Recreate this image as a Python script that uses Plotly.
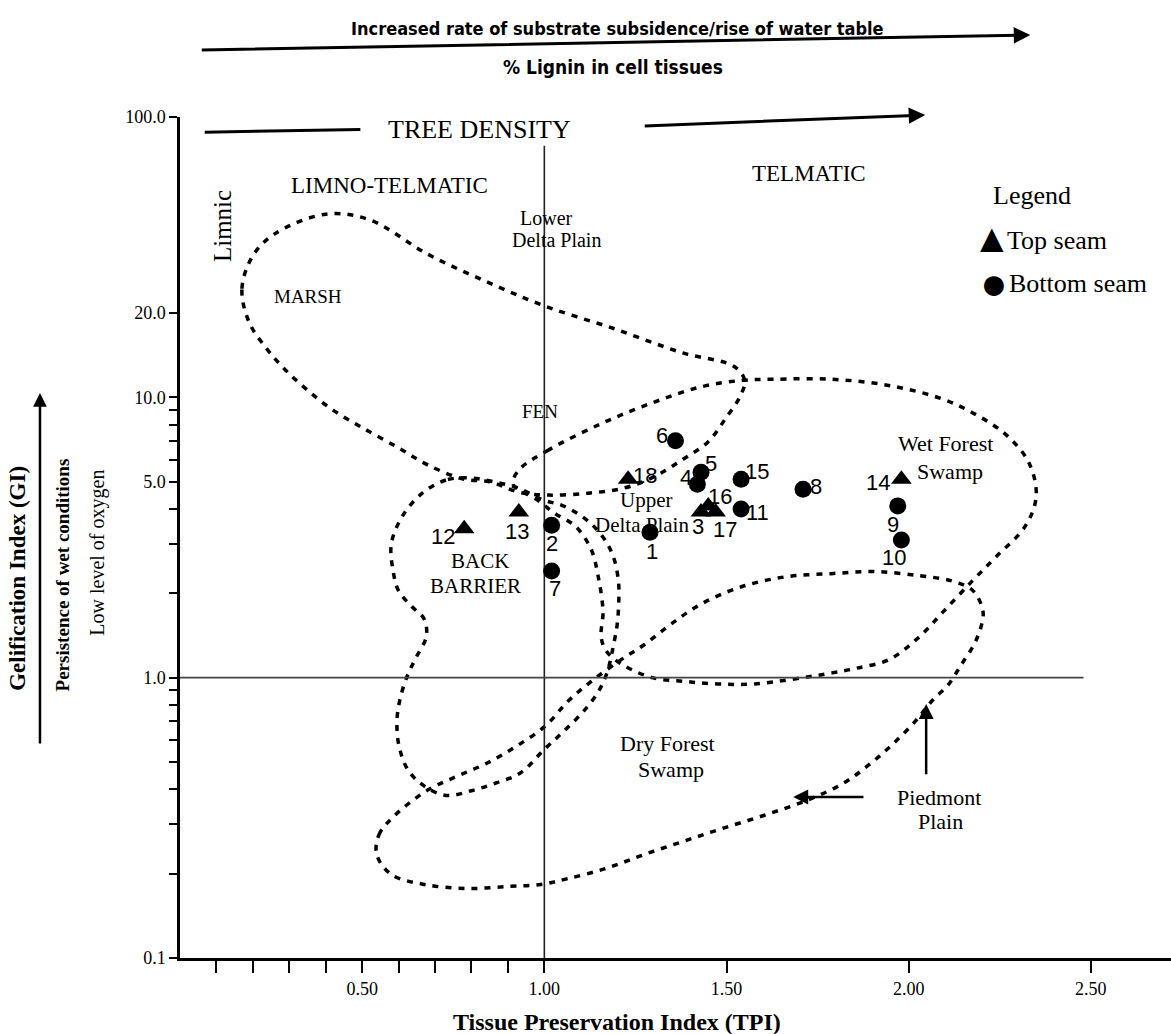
import math
import plotly.graph_objects as go

# ---------------------------------------------------------------------------
# Sample data: Tissue Preservation Index (TPI) vs Gelification Index (GI)
# ---------------------------------------------------------------------------
top_ids = ["3", "12", "13", "14", "16", "17", "18"]
top_tpi = [1.43, 0.78, 0.93, 1.98, 1.45, 1.47, 1.23]
top_gi = [3.9, 3.4, 3.9, 5.1, 4.1, 3.9, 5.1]

bottom_ids = ["1", "2", "4", "5", "6", "7", "8", "9", "10", "11", "15"]
bottom_tpi = [1.29, 1.02, 1.42, 1.43, 1.36, 1.02, 1.71, 1.97, 1.98, 1.54, 1.54]
bottom_gi = [3.3, 3.5, 4.9, 5.4, 7.0, 2.4, 4.7, 4.1, 3.1, 4.0, 5.1]

# Facies-field outlines (TPI, GI) after the Diessel-type diagram
marsh_tpi = [0.19, 0.17, 0.20, 0.26, 0.40, 0.52, 0.68, 0.84, 1.00, 1.19, 1.38, 1.52,
             1.55, 1.536, 1.50, 1.45, 1.38, 1.30, 1.22, 1.12, 1.01, 0.93, 0.85,
             0.78, 0.68, 0.60, 0.50, 0.42, 0.35, 0.29, 0.24, 0.19]
marsh_gi = [18.5, 24.4, 32.0, 38.3, 45.0, 43.0, 32.4, 25.9, 21.2, 17.6, 14.4, 12.9,
            11.5, 10.0, 8.5, 6.95, 6.0, 5.2, 4.75, 4.55, 4.48, 4.59, 5.0,
            5.1, 5.74, 6.6, 7.8, 9.0, 10.6, 12.5, 14.8, 18.5]

back_barrier_tpi = [0.795, 0.73, 0.665, 0.61, 0.58, 0.585, 0.60, 0.637, 0.67, 0.676,
                    0.648, 0.626, 0.607, 0.596, 0.60, 0.626, 0.67, 0.73, 0.80, 0.867,
                    0.934, 1.003, 1.055, 1.108, 1.148, 1.173, 1.19, 1.20, 1.204,
                    1.204, 1.193, 1.173, 1.141, 1.098, 1.048, 0.997, 0.928, 0.86, 0.795]
back_barrier_gi = [5.16, 5.07, 4.55, 3.76, 3.0, 2.40, 2.04, 1.79, 1.62, 1.40,
                   1.18, 1.03, 0.87, 0.72, 0.58, 0.468, 0.411, 0.38, 0.395, 0.421,
                   0.457, 0.56, 0.647, 0.76, 0.89, 1.05, 1.31, 1.55, 1.83,
                   2.16, 2.61, 3.0, 3.41, 3.8, 4.12, 4.3, 4.75, 5.0, 5.16]

wet_forest_tpi = [0.93, 1.008, 1.16, 1.30, 1.43, 1.544, 1.63, 1.79, 1.95, 2.095, 2.19,
                  2.27, 2.33, 2.35, 2.32, 2.24, 2.174, 2.095, 2.027, 1.946, 1.855,
                  1.79, 1.577, 1.475, 1.384, 1.296, 1.211, 1.171, 1.156, 1.161,
                  1.148, 1.128, 1.085, 1.028, 0.978, 0.914, 0.93]
wet_forest_gi = [5.5, 6.45, 8.1, 9.6, 10.9, 11.5, 11.6, 11.6, 11.0, 9.84, 8.6,
                 7.3, 5.84, 4.44, 3.47, 2.70, 2.21, 1.72, 1.39, 1.16, 1.08,
                 1.04, 0.95, 0.95, 0.97, 1.0, 1.12, 1.24, 1.39, 1.72,
                 2.29, 2.88, 3.47, 3.86, 4.33, 4.9, 5.5]

piedmont_tpi = [0.54, 0.546, 0.59, 0.681, 0.762, 0.842, 0.922, 1.003, 1.065, 1.128,
                1.211, 1.274, 1.347, 1.43, 1.541, 1.663, 1.787, 1.908, 2.03, 2.12,
                2.177, 2.204, 2.198, 2.179, 2.144, 2.109, 2.063, 2.019, 1.958,
                1.896, 1.822, 1.725, 1.604, 1.482, 1.379, 1.274, 1.171, 1.065,
                0.99, 0.90, 0.787, 0.67, 0.579, 0.54]
piedmont_gi = [0.234, 0.275, 0.323, 0.398, 0.446, 0.495, 0.568, 0.673, 0.824, 0.968,
               1.16, 1.31, 1.55, 1.83, 2.11, 2.29, 2.35, 2.39, 2.31, 2.21,
               2.04, 1.72, 1.51, 1.31, 1.11, 0.945, 0.824, 0.701, 0.582,
               0.495, 0.421, 0.367, 0.323, 0.288, 0.26, 0.234, 0.209, 0.192,
               0.183, 0.18, 0.177, 0.183, 0.199, 0.234]

# Axis ticks
y_tickvals = [0.1, 1, 5, 10, 20, 100]
y_ticktext = ["0.1", "1.0", "5.0", "10.0", "20.0", "100.0"]
y_minor = [0.2, 0.3, 0.4, 0.5, 0.6, 0.7, 0.8, 0.9, 2, 3, 4, 6, 7, 8, 9]
x_tickvals = [0.5, 1.0, 1.5, 2.0, 2.5]
x_ticktext = ["0.50", "1.00", "1.50", "2.00", "2.50"]
x_minor = [0.1, 0.2, 0.3, 0.4, 0.6, 0.7, 0.8, 0.9]

# ---------------------------------------------------------------------------
SERIF = "Liberation Serif, Times New Roman, serif"
SANS = "Liberation Sans, Arial, sans-serif"
NARROW = "Liberation Sans Narrow, DejaVu Sans Condensed, Arial Narrow, sans-serif"

# pixel offsets of the sample numbers relative to their markers
label_offset = {
    "1": (2, -19), "2": (0, -18), "3": (-3, -15), "4": (-11, 7), "5": (10, 9),
    "6": (-14, 5), "7": (3, -17), "8": (13, 3), "9": (-5, -19), "10": (-7, -18),
    "11": (16, -4), "12": (-21, -8), "13": (-2, -20), "14": (-23, -3),
    "15": (16, 8), "16": (12, 9), "17": (9, -18), "18": (17, 4),
}

fig = go.Figure()

dash = dict(color="black", width=3.5, dash="6px,7px", shape="spline", smoothing=1.0)
for tpi, gi in [(marsh_tpi, marsh_gi), (back_barrier_tpi, back_barrier_gi),
                (wet_forest_tpi, wet_forest_gi), (piedmont_tpi, piedmont_gi)]:
    fig.add_trace(go.Scatter(x=tpi, y=gi, mode="lines", line=dash,
                             hoverinfo="skip", showlegend=False))

# reference lines TPI = 1 and GI = 1
fig.add_trace(go.Scatter(x=[1.0, 1.0], y=[0.1, 79], mode="lines",
                         line=dict(color="#222", width=1.6), showlegend=False))
fig.add_trace(go.Scatter(x=[0.0, 2.48], y=[1.0, 1.0], mode="lines",
                         line=dict(color="#444", width=1.6), showlegend=False))

fig.add_trace(go.Scatter(x=top_tpi, y=top_gi, mode="markers", name="Top seam",
                         marker=dict(symbol="triangle-up", size=18, color="black"),
                         showlegend=False))
fig.add_trace(go.Scatter(x=bottom_tpi, y=bottom_gi, mode="markers", name="Bottom seam",
                         marker=dict(symbol="circle", size=17, color="black"),
                         showlegend=False))

annotations = []

# sample numbers
for ids, xs, ys in [(top_ids, top_tpi, top_gi), (bottom_ids, bottom_tpi, bottom_gi)]:
    for sid, xv, yv in zip(ids, xs, ys):
        dx, dy = label_offset[sid]
        annotations.append(dict(x=xv, y=math.log10(yv), xref="x", yref="y", text=sid,
                                showarrow=False, xshift=dx, yshift=dy,
                                xanchor="center", yanchor="middle",
                                font=dict(family=SANS, size=22, color="black")))


def field_label(text, x, gi, size=15, angle=0):
    annotations.append(dict(x=x, y=math.log10(gi), xref="x", yref="y", text=text,
                            showarrow=False, textangle=angle, align="center",
                            xanchor="center", yanchor="middle",
                            font=dict(family=SERIF, size=size, color="black")))


def page_text(text, x, y, size, family=SERIF, angle=0, xanchor="center"):
    annotations.append(dict(x=x, y=y, xref="paper", yref="paper", text=text,
                            showarrow=False, textangle=angle,
                            xanchor=xanchor, yanchor="middle",
                            font=dict(family=family, size=size, color="black")))


field_label("TREE DENSITY", 0.821, 90.6, size=26)
field_label("LIMNO-TELMATIC", 0.574, 56.8, size=23)
field_label("TELMATIC", 1.727, 63.1, size=23)
field_label("Limnic", 0.115, 40.8, size=25, angle=-90)
field_label("Lower", 1.007, 43.6, size=20)
field_label("Delta Plain", 1.032, 36.5, size=20)
field_label("MARSH", 0.351, 22.8, size=19)
field_label("FEN", 0.988, 8.87, size=19)
field_label("Wet Forest", 2.100, 6.85, size=22)
field_label("Swamp", 2.114, 5.45, size=22)
field_label("Upper", 1.280, 4.30, size=21)
field_label("Delta Plain", 1.268, 3.50, size=21)
field_label("BACK", 0.823, 2.60, size=21)
field_label("BARRIER", 0.812, 2.13, size=21)
field_label("Dry Forest", 1.339, 0.583, size=22)
field_label("Swamp", 1.347, 0.471, size=22)
field_label("Piedmont", 2.083, 0.373, size=22)
field_label("Plain", 2.086, 0.306, size=22)

# arrows pointing at the Piedmont Plain field
annotations.append(dict(x=2.048, y=-0.094, xref="x", yref="y", ax=2.048, ay=-0.350,
                        axref="x", ayref="y", text="", showarrow=True, arrowhead=2,
                        arrowsize=1.2, arrowwidth=2.5, arrowcolor="black"))
annotations.append(dict(x=1.683, y=-0.426, xref="x", yref="y", ax=1.880, ay=-0.426,
                        axref="x", ayref="y", text="", showarrow=True, arrowhead=2,
                        arrowsize=1.2, arrowwidth=2.5, arrowcolor="black"))

# headings above the plot
page_text("<b>Increased rate of substrate subsidence/rise of water table</b>",
          0.441, 1.1058, 18, family=NARROW)
annotations.append(dict(x=0.858, y=1.0975, xref="paper", yref="paper", text="",
                        showarrow=True, ax=-830, ay=15, arrowhead=2, arrowsize=1.1,
                        arrowwidth=3, arrowcolor="black"))
page_text("<b>% Lignin in cell tissues</b>", 0.437, 1.0595, 19, family=NARROW)
annotations.append(dict(x=0.752, y=1.0024, xref="paper", yref="paper", text="",
                        showarrow=True, ax=-282, ay=11, arrowhead=2, arrowsize=1.1,
                        arrowwidth=3, arrowcolor="black"))

# y-axis description
page_text("<b>Gelification Index (GI)</b>", -0.1635, 0.452, 23, angle=-90)
annotations.append(dict(x=-0.1413, y=0.6718, xref="paper", yref="paper", text="",
                        showarrow=True, ax=0, ay=352, arrowhead=2, arrowsize=1.1,
                        arrowwidth=2.5, arrowcolor="black"))
page_text("<b>Persistence of wet conditions</b>", -0.119, 0.455, 19, angle=-90)
page_text("Low level of oxygen", -0.0827, 0.482, 20, angle=-90)

# x-axis title
page_text("<b>Tissue Preservation Index (TPI)</b>", 0.441, -0.0761, 24)

# legend block
page_text("Legend", 0.860, 0.907, 26)
page_text("▲", 0.8194, 0.8560, 40)
page_text("Top seam", 0.8325, 0.8537, 26, xanchor="left")
page_text("●", 0.8214, 0.8026, 46)
page_text("Bottom seam", 0.8345, 0.8026, 26, xanchor="left")

shapes = [
    dict(type="line", xref="paper", yref="paper", x0=0.025, y0=0.982, x1=0.182, y1=0.985,
         line=dict(color="black", width=3)),
]

fig.update_layout(
    width=1171, height=1034,
    margin=dict(l=180, r=0, t=117, b=76),
    plot_bgcolor="white", paper_bgcolor="white",
    showlegend=False,
    annotations=annotations,
    shapes=shapes,
    xaxis=dict(range=[0, 2.72], showgrid=False, zeroline=False,
               showline=True, linecolor="black", linewidth=3,
               tickmode="array", tickvals=x_tickvals, ticktext=x_ticktext,
               ticks="outside", ticklen=12, tickwidth=2, tickcolor="black",
               tickfont=dict(family=SERIF, size=18, color="black"),
               minor=dict(tickmode="array", tickvals=x_minor, ticks="outside",
                          ticklen=12, tickwidth=2, tickcolor="black")),
    yaxis=dict(type="log", range=[-1, 2], showgrid=False, zeroline=False,
               showline=True, linecolor="black", linewidth=2.5,
               tickmode="array", tickvals=y_tickvals, ticktext=y_ticktext,
               ticks="outside", ticklen=8, tickwidth=2, tickcolor="black",
               tickfont=dict(family=SERIF, size=18, color="black"),
               minor=dict(tickmode="array", tickvals=y_minor, ticks="outside",
                          ticklen=8, tickwidth=1.5, tickcolor="black")),
)

fig.write_html("out.html")
